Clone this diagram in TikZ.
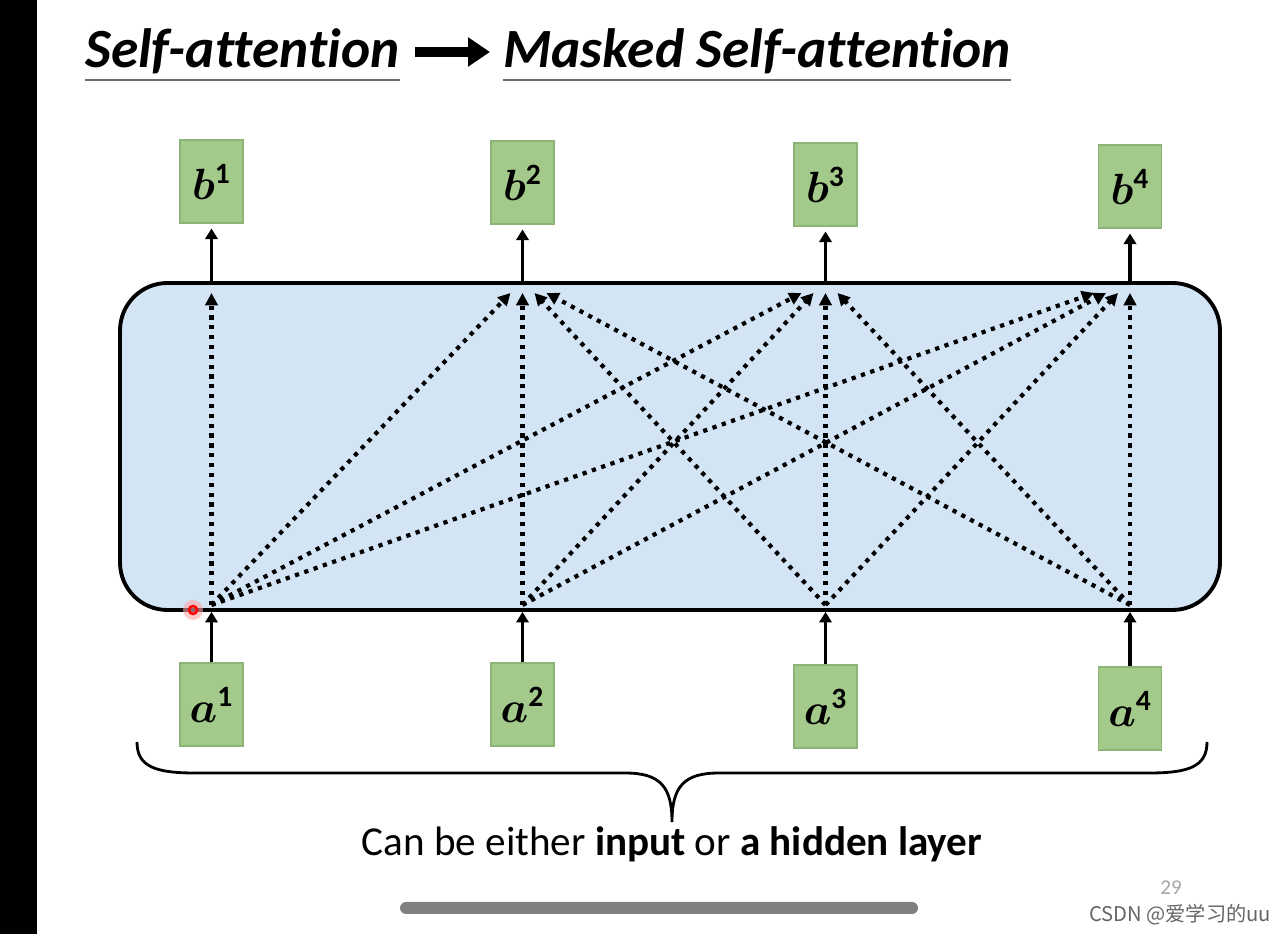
\documentclass[tikz,border=0pt]{standalone}
\usepackage{fontspec}
\setmainfont{Carlito}[Ligatures=NoCommon]
\newfontfamily\cjkfont{Noto Sans CJK SC}
\usepackage{bm}
\usetikzlibrary{arrows.meta, calc}

\definecolor{boxgreen}{RGB}{163,202,139}
\definecolor{boxedge}{RGB}{140,180,118}
\definecolor{paneblue}{RGB}{211,228,245}

\begin{document}
\begin{tikzpicture}[
    every node/.style={font=\fontsize{23.4}{27}\selectfont},
    vec/.style={
        rectangle, fill=boxgreen, draw=boxedge, line width=0.6pt,
        minimum width=1.26cm, minimum height=1.66cm, inner sep=0pt,
        font=\fontsize{24}{28}\selectfont
    },
    pane/.style={
        rectangle, rounded corners=0.95cm,
        fill=paneblue, draw=black, line width=2.2pt,
        minimum width=22cm, minimum height=6.54cm
    },
    arr/.style={
        -{Triangle[length=6pt,width=7pt]},
        line width=2.2pt
    },
    darr/.style={
        -{Triangle[length=7pt,width=7pt]},
        line width=2.4pt, dash pattern=on 2.4pt off 3.2pt
    },
    ttl/.style={
        font=\fontsize{31.5}{36}\selectfont\bfseries\itshape,
        inner sep=0pt, anchor=base west
    },
    uline/.style={
        draw={rgb,255:red,110;green,110;blue,110},
        line width=1.3pt
    }
]
\useasboundingbox (0,0) rectangle (25.6,18.68);
\fill[black] (0,0) rectangle (0.74,18.68);

%% ── Title ───────────────────────────────────────────────────────────
\node[ttl] (ttlA) at (1.7,17.32)   {Self-attention};
\node[ttl] (ttlB) at (10.06,17.32) {Masked Self-attention};

\draw[uline] ([yshift=-0.24cm]ttlA.base west) -- ([yshift=-0.24cm]ttlA.base east);
\draw[uline] ([yshift=-0.24cm]ttlB.base west) -- ([yshift=-0.24cm]ttlB.base east);

\coordinate (go) at (8.3,17.64);
\coordinate (to) at (9.8,17.64);
\draw[line width=5.7pt, -{Triangle[length=0.44cm,width=0.56cm]}] (go) -- (to);

%% ── Attention layer ─────────────────────────────────────────────────
\node[pane] (att) at (13.4,9.75) {};

%% ── Inputs and outputs ──────────────────────────────────────────────
\foreach \n/\x/\yb/\ya in {1/4.23/15.05/4.59, 2/10.45/15.03/4.59,
                           3/16.51/14.99/4.55, 4/22.6/14.95/4.51} {
    \node[vec] (b\n) at (\x,\yb) {$\bm{b}^{\mathbf{\n}}$};
    \node[vec] (a\n) at (\x,\ya) {$\bm{a}^{\mathbf{\n}}$};
    \coordinate (t\n) at (\x,12.82);
    \coordinate (s\n) at (\x,6.58);
    \draw[arr, shorten >=0.1cm] (b\n.south |- att.north) -- (b\n);
    \draw[arr] (a\n) -- (a\n.north |- att.south);
}

%% ── Attention links ─────────────────────────────────────────────────
\draw[darr] (s1) -- (t1);
\foreach \j in {2,3,4}
    \foreach \i in {1,...,4} {
        \pgfmathsetmacro\dx{0.24*(\i-\j)}
        \draw[darr] (s\i) -- ([xshift=\dx cm]t\j);
    }

%% ── Pointer ─────────────────────────────────────────────────────────
\coordinate (ptr) at (3.86,6.48);
\fill[red!35, opacity=0.6] (ptr) circle (0.2);
\draw[red, line width=1.4pt] (ptr) circle (0.08);

%% ── Brace and note ──────────────────────────────────────────────────
\draw[line width=1.6pt]
    (2.74,3.84) .. controls (2.74,3.35) and (3.1,3.22) .. (3.9,3.22)
    -- (12.5,3.22) .. controls (13.2,3.22) and (13.44,2.95) .. (13.44,2.24)
    .. controls (13.44,2.95) and (13.68,3.22) .. (14.38,3.22)
    -- (22.98,3.22) .. controls (23.78,3.22) and (24.14,3.35) .. (24.14,3.84);

\node[anchor=base] (note) at (13.44,1.56)
    {Can be either \textbf{input} or \textbf{a hidden layer}};

%% ── Slide footer ────────────────────────────────────────────────────
\node[text=gray!70, font=\fontsize{12}{14}\selectfont] (pg) at (23.42,0.92) {29};
\fill[gray, rounded corners=0.12cm] (8.0,0.4) rectangle (18.36,0.64);
\node[font=\cjkfont\fontsize{11.5}{13}\selectfont,
      text={rgb,255:red,100;green,100;blue,100}] (wm) at (23.6,0.38)
    {CSDN @爱学习的uu};

\end{tikzpicture}
\end{document}
